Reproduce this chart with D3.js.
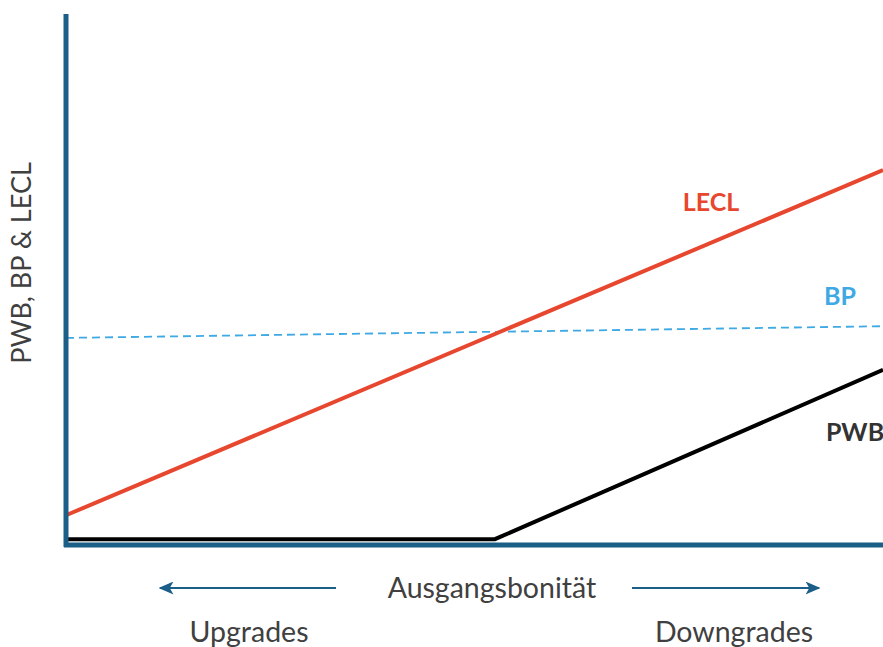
<!DOCTYPE html>
<html>
<head>
<meta charset="utf-8">
<script src="https://cdn.jsdelivr.net/npm/d3@7"></script>
<style>
  body { margin: 0; background: #fff; }
  text { font-family: Lato, "Open Sans", sans-serif; }
</style>
</head>
<body>
<svg width="883" height="647"></svg>
<script>
'use strict';

// x: credit quality (0 = best, 100 = worst), y: relative amount
var lecl = [{x: 0, y: 5.6}, {x: 100, y: 70.6}];
var bp = [{x: 0, y: 39.0}, {x: 100, y: 41.2}];
var pwb = [{x: 0, y: 1.1}, {x: 52.5, y: 1.1}, {x: 100, y: 33.0}];

var seriesLabels = ['LECL', 'BP', 'PWB'];
var yTitle = 'PWB, BP & LECL';
var xTitle = 'Ausgangsbonität';
var directionLabels = ['Upgrades', 'Downgrades'];

var svg = d3.select('svg');
var axisColor = '#1b5f88';

var x = d3.scaleLinear().domain([0, 100]).range([66, 883]);
var y = d3.scaleLinear().domain([0, 100]).range([545, 14]);

var line = d3.line()
    .x(function(d) { return x(d.x); })
    .y(function(d) { return y(d.y); });

svg.append('defs').append('marker')
    .attr('id', 'arrow')
    .attr('viewBox', '0 0 10 10')
    .attr('refX', 9).attr('refY', 5)
    .attr('markerWidth', 15).attr('markerHeight', 13)
    .attr('markerUnits', 'userSpaceOnUse')
    .attr('orient', 'auto')
    .attr('preserveAspectRatio', 'none')
    .append('path')
    .attr('d', 'M0,0L10,5L0,10L2.5,5Z')
    .attr('fill', axisColor);

// series
svg.append('path')
    .attr('d', line(bp))
    .attr('fill', 'none')
    .attr('stroke', '#3fa9e3')
    .attr('stroke-width', 1.8)
    .attr('stroke-dasharray', '8,5');

svg.append('path')
    .attr('d', line(lecl))
    .attr('fill', 'none')
    .attr('stroke', '#e8472f')
    .attr('stroke-width', 4);

svg.append('path')
    .attr('d', line(pwb))
    .attr('fill', 'none')
    .attr('stroke', '#000')
    .attr('stroke-width', 4);

// axes
svg.append('line')
    .attr('x1', x(0)).attr('x2', x(0))
    .attr('y1', y(100)).attr('y2', y(0) + 2)
    .attr('stroke', axisColor).attr('stroke-width', 5);
svg.append('line')
    .attr('x1', x(0) - 2).attr('x2', x(100))
    .attr('y1', y(0)).attr('y2', y(0))
    .attr('stroke', axisColor).attr('stroke-width', 5);

// series labels
var labelPos = [
    {x: 711, y: 211, color: '#e8472f'},
    {x: 840, y: 305, color: '#3fa9e3'},
    {x: 855, y: 441, color: '#333'}
];
svg.selectAll('.series-label')
    .data(seriesLabels)
    .enter()
    .append('text')
    .attr('class', 'series-label')
    .attr('x', function(d, i) { return labelPos[i].x; })
    .attr('y', function(d, i) { return labelPos[i].y; })
    .attr('text-anchor', 'middle')
    .attr('font-size', 25)
    .attr('font-weight', 'bold')
    .attr('fill', function(d, i) { return labelPos[i].color; })
    .text(function(d) { return d; });

// y title
svg.append('text')
    .attr('transform', 'translate(31,263) rotate(-90)')
    .attr('text-anchor', 'middle')
    .attr('font-size', 27)
    .attr('fill', '#404040')
    .text(yTitle);

// x title and arrows
svg.append('text')
    .attr('x', 492).attr('y', 598)
    .attr('text-anchor', 'middle')
    .attr('font-size', 28.5)
    .attr('fill', '#404040')
    .text(xTitle);

svg.append('line')
    .attr('x1', 336).attr('x2', 160)
    .attr('y1', 588).attr('y2', 588)
    .attr('stroke', axisColor).attr('stroke-width', 2.2)
    .attr('marker-end', 'url(#arrow)');
svg.append('line')
    .attr('x1', 632).attr('x2', 819)
    .attr('y1', 588).attr('y2', 588)
    .attr('stroke', axisColor).attr('stroke-width', 2.2)
    .attr('marker-end', 'url(#arrow)');

svg.selectAll('.dir-label')
    .data(directionLabels)
    .enter()
    .append('text')
    .attr('class', 'dir-label')
    .attr('x', function(d, i) { return i === 0 ? 249 : 734; })
    .attr('y', 642)
    .attr('text-anchor', 'middle')
    .attr('font-size', 28.5)
    .attr('fill', '#404040')
    .text(function(d) { return d; });
</script>
</body>
</html>
